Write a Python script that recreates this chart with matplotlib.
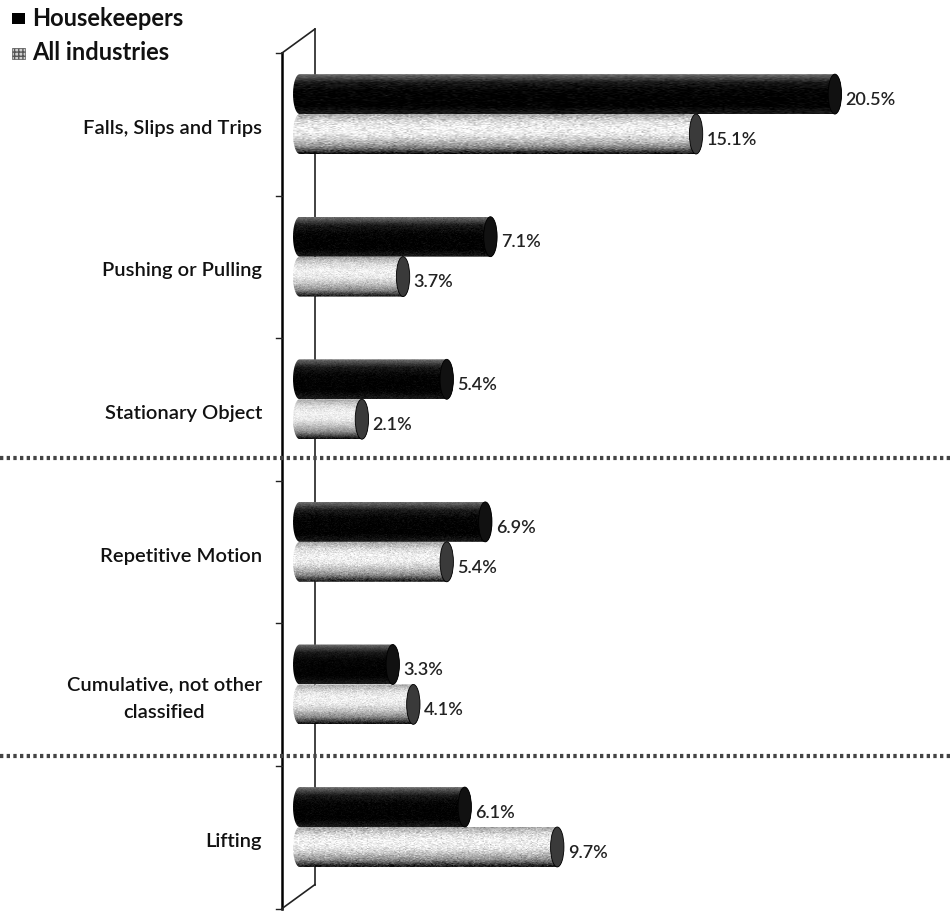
import matplotlib
matplotlib.use("Agg")
import matplotlib.pyplot as plt
import numpy as np
from matplotlib.patches import PathPatch, Ellipse, Rectangle
from matplotlib.path import Path
from matplotlib.colors import LinearSegmentedColormap

plt.rcParams['font.family'] = ['Lato', 'DejaVu Sans']

# injury causes, share of cases (%)
categories = ["Falls, Slips and Trips", "Pushing or Pulling", "Stationary Object",
              "Repetitive Motion", "Cumulative, not other\nclassified", "Lifting"]
housekeepers = [20.5, 7.1, 5.4, 6.9, 3.3, 6.1]
all_industries = [15.1, 3.7, 2.1, 5.4, 4.1, 9.7]
series_names = ["Housekeepers", "All industries"]
group_breaks = [2.41, 4.50]   # dotted separators between groups of causes

BASE = -0.32     # where the cylinders start, just in front of the wall
RX = 0.26        # horizontal radius of the cylinder ends
HALF = 0.14      # half thickness of one cylinder (in rows)
WALL_FRONT = -1.01
WALL_BACK = 0.27
DEPTH = 0.168

dark_cmap = LinearSegmentedColormap.from_list(
    "dark", ["#6a6a6a", "#1a1a1a", "#050505", "#000000", "#000000", "#1a1a1a"])
light_cmap = LinearSegmentedColormap.from_list(
    "light", ["#a8a8a8", "#dcdcdc", "#f2f2f2", "#ececec", "#c4c4c4", "#8a8a8a", "#111111"])

rng = np.random.default_rng(7)


def cylinder(ax, y, value, cmap, cap_color, grain):
    t = np.linspace(-np.pi / 2, np.pi / 2, 50)
    right = np.column_stack([value + RX * np.cos(t), y + HALF * np.sin(t)])
    left = np.column_stack([BASE - RX * np.cos(t[::-1]), y + HALF * np.sin(t[::-1])])
    verts = np.vstack([right, left, right[:1]])
    patch = PathPatch(Path(verts, closed=True), fc="none", ec="none",
                      transform=ax.transData)
    ax.add_patch(patch)

    rows, cols = 40, 220
    shade = np.repeat(np.linspace(0, 1, rows)[:, None], cols, axis=1)
    rgb = cmap(shade)[..., :3]
    if grain:
        speck = rng.normal(0, grain, (rows, cols))[..., None]
        rgb = np.clip(rgb + speck, 0, 1)
    im = ax.imshow(rgb, extent=(BASE - RX, value + RX, y + HALF, y - HALF),
                   origin="upper", aspect="auto", interpolation="bilinear", zorder=3)
    im.set_clip_path(patch)
    ax.add_patch(Ellipse((value, y), 2 * RX, 2 * HALF, fc=cap_color,
                         ec="#000000", lw=0.6, zorder=4))


fig = plt.figure(figsize=(9.5, 9.11), dpi=100)
ax = fig.add_axes([0, 0, 1, 1])

# side wall of the 3-D plot
front_y = np.arange(len(categories) + 1) - 0.5 + 0.072
ax.plot([WALL_FRONT, WALL_FRONT], [front_y[0], front_y[-1]], color="#000000", lw=1.8, zorder=2)
ax.plot([WALL_BACK, WALL_BACK], [front_y[0] - DEPTH, front_y[-1] - DEPTH],
        color="#333333", lw=1.3, zorder=2)
ax.plot([WALL_FRONT, WALL_BACK], [front_y[0], front_y[0] - DEPTH], color="#222222", lw=1.2, zorder=2)
ax.plot([WALL_FRONT, WALL_BACK], [front_y[-1], front_y[-1] - DEPTH], color="#222222", lw=1.2, zorder=2)
for yb in front_y:
    ax.plot([WALL_FRONT - 0.25, WALL_FRONT], [yb, yb], color="#222222", lw=1.0, zorder=2)

for i, (cat, hk, ai) in enumerate(zip(categories, housekeepers, all_industries)):
    y_hk = i - HALF
    y_ai = i + HALF
    cylinder(ax, y_hk, hk, dark_cmap, "#111111", 0.03)
    cylinder(ax, y_ai, ai, light_cmap, "#3a3a3a", 0.07)
    ax.text(hk + 0.42, y_hk + 0.04, f"{hk:.1f}%", ha="left", va="center",
            fontsize=13, fontweight="semibold", color="#222222")
    ax.text(ai + 0.42, y_ai + 0.04, f"{ai:.1f}%", ha="left", va="center",
            fontsize=13, fontweight="semibold", color="#222222")
    ax.text(-1.79, i + 0.1, cat, ha="right", va="center", multialignment="center",
            fontsize=14.5, fontweight="semibold", color="#111111", linespacing=1.7)

for yb in group_breaks:
    ax.axhline(yb, color="#444444", lw=3, linestyle=(0, (0.8, 0.8)),
               dash_capstyle="butt", zorder=5)

ax.set_xlim(-11.98, 24.98)
ax.set_ylim(5.589, -0.80)
ax.axis("off")

# legend in the top-left corner
W, H = 950, 911
fig.patches.append(Rectangle((12 / W, 1 - 24 / H), 13 / W, 11 / H, transform=fig.transFigure,
                             fc="#000000", ec="none"))
fig.patches.append(Rectangle((12 / W, 1 - 59 / H), 13 / W, 11 / H, transform=fig.transFigure,
                             fc="#cfcfcf", ec="#555555", hatch="++++", lw=0.5))
fig.text(32 / W, 1 - 18 / H, series_names[0], ha="left", va="center",
         fontsize=17, fontweight="bold", color="#111111")
fig.text(32 / W, 1 - 53 / H, series_names[1], ha="left", va="center",
         fontsize=17, fontweight="bold", color="#111111")

fig.savefig("out.png", dpi=100, facecolor="white")
